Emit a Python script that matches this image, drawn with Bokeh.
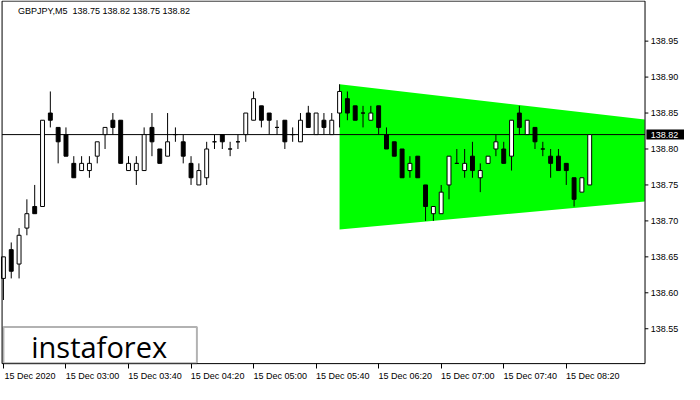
from bokeh.plotting import figure
from bokeh.models import Range1d, FixedTicker, Label, BoxAnnotation, ColumnDataSource
from bokeh.core.properties import value
from bokeh.embed import file_html
from bokeh.resources import INLINE

symbol = "GBPJPY,M5"
opens = [138.62, 138.66, 138.64, 138.69, 138.72, 138.72, 138.85, 138.83, 138.82, 138.78,
         138.77, 138.77, 138.79, 138.82, 138.84, 138.84, 138.77, 138.77, 138.77, 138.83,
         138.80, 138.79, 138.82, 138.81, 138.78, 138.75, 138.76, 138.81, 138.82, 138.80,
         138.81, 138.82, 138.84, 138.86, 138.85, 138.83, 138.84, 138.82, 138.81, 138.85,
         138.82, 138.84, 138.82, 138.85, 138.87, 138.86, 138.85, 138.84, 138.86, 138.82,
         138.81, 138.80, 138.77, 138.79, 138.75, 138.71, 138.71, 138.75, 138.78, 138.77,
         138.79, 138.76, 138.78, 138.80, 138.80, 138.79, 138.85, 138.82, 138.83, 138.80,
         138.79, 138.79, 138.78, 138.76, 138.74, 138.75]
highs = [138.65, 138.67, 138.69, 138.73, 138.75, 138.84, 138.88, 138.83, 138.83, 138.79,
         138.79, 138.79, 138.81, 138.83, 138.85, 138.84, 138.79, 138.79, 138.83, 138.85,
         138.80, 138.85, 138.83, 138.82, 138.79, 138.78, 138.81, 138.82, 138.82, 138.81,
         138.82, 138.85, 138.88, 138.86, 138.85, 138.84, 138.84, 138.83, 138.85, 138.86,
         138.85, 138.85, 138.85, 138.89, 138.88, 138.86, 138.86, 138.86, 138.86, 138.83,
         138.81, 138.80, 138.79, 138.79, 138.75, 138.72, 138.75, 138.79, 138.80, 138.80,
         138.81, 138.78, 138.79, 138.82, 138.81, 138.84, 138.86, 138.84, 138.83, 138.81,
         138.80, 138.80, 138.78, 138.76, 138.76, 138.82]
lows = [138.59, 138.62, 138.62, 138.68, 138.71, 138.72, 138.83, 138.78, 138.79, 138.76,
        138.77, 138.76, 138.78, 138.80, 138.82, 138.78, 138.77, 138.75, 138.77, 138.79,
        138.78, 138.79, 138.81, 138.78, 138.75, 138.75, 138.75, 138.80, 138.80, 138.79,
        138.80, 138.81, 138.84, 138.83, 138.82, 138.82, 138.80, 138.81, 138.81, 138.83,
        138.82, 138.82, 138.82, 138.83, 138.84, 138.84, 138.83, 138.84, 138.82, 138.80,
        138.79, 138.76, 138.76, 138.76, 138.70, 138.70, 138.71, 138.73, 138.78, 138.76,
        138.76, 138.74, 138.78, 138.79, 138.78, 138.77, 138.82, 138.82, 138.80, 138.79,
        138.76, 138.77, 138.75, 138.72, 138.74, 138.75]
closes = [138.65, 138.63, 138.68, 138.71, 138.71, 138.84, 138.84, 138.81, 138.79, 138.76,
          138.78, 138.78, 138.81, 138.83, 138.83, 138.78, 138.78, 138.78, 138.82, 138.81,
          138.78, 138.81, 138.82, 138.79, 138.76, 138.77, 138.80, 138.81, 138.81, 138.80,
          138.81, 138.85, 138.87, 138.84, 138.84, 138.83, 138.81, 138.82, 138.84, 138.83,
          138.85, 138.83, 138.84, 138.88, 138.85, 138.84, 138.85, 138.85, 138.83, 138.80,
          138.79, 138.76, 138.78, 138.76, 138.72, 138.72, 138.74, 138.79, 138.78, 138.78,
          138.77, 138.77, 138.79, 138.81, 138.78, 138.84, 138.83, 138.84, 138.81, 138.80,
          138.78, 138.77, 138.77, 138.73, 138.76, 138.82]

# triangle pattern (bar index, price)
tri_x = [43, 82.04, 82.04, 43]
tri_y = [138.890, 138.841, 138.727, 138.688]

time_tick_bars = [0, 8, 16, 24, 32, 40, 48, 56, 64, 72]
time_labels = ["15 Dec 2020", "15 Dec 03:00", "15 Dec 03:40", "15 Dec 04:20",
               "15 Dec 05:00", "15 Dec 05:40", "15 Dec 06:20", "15 Dec 07:00",
               "15 Dec 07:40", "15 Dec 08:20"]
price_ticks = [138.55, 138.60, 138.65, 138.70, 138.75, 138.80, 138.85, 138.90, 138.95]

FONT = "Liberation Sans"
FS = "9px"


# layout helpers: reference-pixel position -> data coordinates
def i_of(xpx):
    return (xpx - 3) / 8.0


def p_of(ypx):
    return 138.95 - (ypx - 42.3) / 748.5


idx = list(range(len(opens)))
src = ColumnDataSource(dict(
    x=idx, o=opens, h=highs, l=lows, c=closes,
    top=[max(o, c) for o, c in zip(opens, closes)],
    bot=[min(o, c) for o, c in zip(opens, closes)],
    fill=["white" if c >= o else "black" for o, c in zip(opens, closes)],
))

p = figure(frame_width=684, frame_height=366, output_backend="svg", toolbar_location=None,
           x_range=Range1d(i_of(0), i_of(700)), y_range=Range1d(p_of(381), p_of(0)),
           y_axis_location=None, x_axis_location="below",
           min_border_left=0, min_border_top=0, min_border_right=0, min_border_bottom=0)
p.xgrid.visible = False
p.ygrid.visible = False
p.outline_line_color = None
p.background_fill_color = "white"
p.border_fill_color = "white"

x_left = i_of(1.6)
x_border = i_of(659.6)
y_top = p_of(0.6)
y_bottom = p_of(378)

# pattern
p.patch(tri_x, tri_y, fill_color="#00FF00", line_color=None)
# last price line
p.segment(x0=[x_left], x1=[x_border], y0=[closes[-1]], y1=[closes[-1]],
          line_color="black", line_width=1)
# candles
p.segment(x0="x", x1="x", y0="l", y1="h", source=src, line_color="black", line_width=1)
p.vbar(x="x", top="top", bottom="bot", width=0.5, source=src,
       fill_color="fill", line_color="black", line_width=1)

# chart border
p.segment(x0=[x_left, x_border, x_border, x_left],
          y0=[y_top, y_top, y_bottom, y_bottom],
          x1=[x_border, x_border, x_left, x_left],
          y1=[y_top, y_bottom, y_bottom, y_top],
          line_color="black", line_width=1)

# price scale on the right
p.segment(x0=[x_border] * len(price_ticks), x1=[i_of(663)] * len(price_ticks),
          y0=price_ticks, y1=price_ticks, line_color="black", line_width=1)
p.text(x=[i_of(665.5)] * len(price_ticks), y=price_ticks,
       text=[f"{v:.2f}" for v in price_ticks], text_baseline="middle", text_align="left",
       text_font=value(FONT), text_font_size=FS, text_color="black")

# current price tag
p.quad(left=[i_of(661)], right=[i_of(700)], top=[closes[-1] + 5.2 / 748.5],
       bottom=[closes[-1] - 5.2 / 748.5], fill_color="black", line_color=None)
p.text(x=[i_of(665.5)], y=[closes[-1]], text=[f"{closes[-1]:.2f}"],
       text_baseline="middle", text_align="left", text_font=value(FONT),
       text_font_size=FS, text_color="white")

# time axis
centers = [b + 3.4 for b in time_tick_bars]
xa = p.xaxis[0]
xa.ticker = FixedTicker(ticks=centers, minor_ticks=time_tick_bars)
xa.major_label_overrides = {c: t for c, t in zip(centers, time_labels)}
xa.major_tick_line_color = None
xa.major_tick_in = 0
xa.major_tick_out = 0
xa.minor_tick_line_color = "black"
xa.minor_tick_in = 3
xa.minor_tick_out = 2
xa.axis_line_color = None
xa.major_label_standoff = 2
xa.major_label_text_font = FONT
xa.major_label_text_font_size = FS
xa.major_label_text_color = "black"

# header
header = f"{symbol}\u00a0\u00a0{opens[-1]:.2f} {highs[-1]:.2f} {lows[-1]:.2f} {closes[-1]:.2f}"
p.add_layout(Label(x=i_of(18), y=p_of(11), text=header, text_font=FONT,
                   text_font_size=FS, text_color="black", text_baseline="middle"))

# watermark
p.add_layout(BoxAnnotation(left=i_of(3), right=i_of(201), top=p_of(340),
                           bottom=p_of(377.5), fill_color="white", fill_alpha=1,
                           line_color="black", line_width=2))
p.add_layout(Label(x=i_of(101), y=p_of(360), text="instaforex", text_font="Open Sans",
                   text_font_size="29px", text_color="black", text_align="center",
                   text_baseline="middle"))

open("out.html", "w").write(file_html(p, INLINE))
